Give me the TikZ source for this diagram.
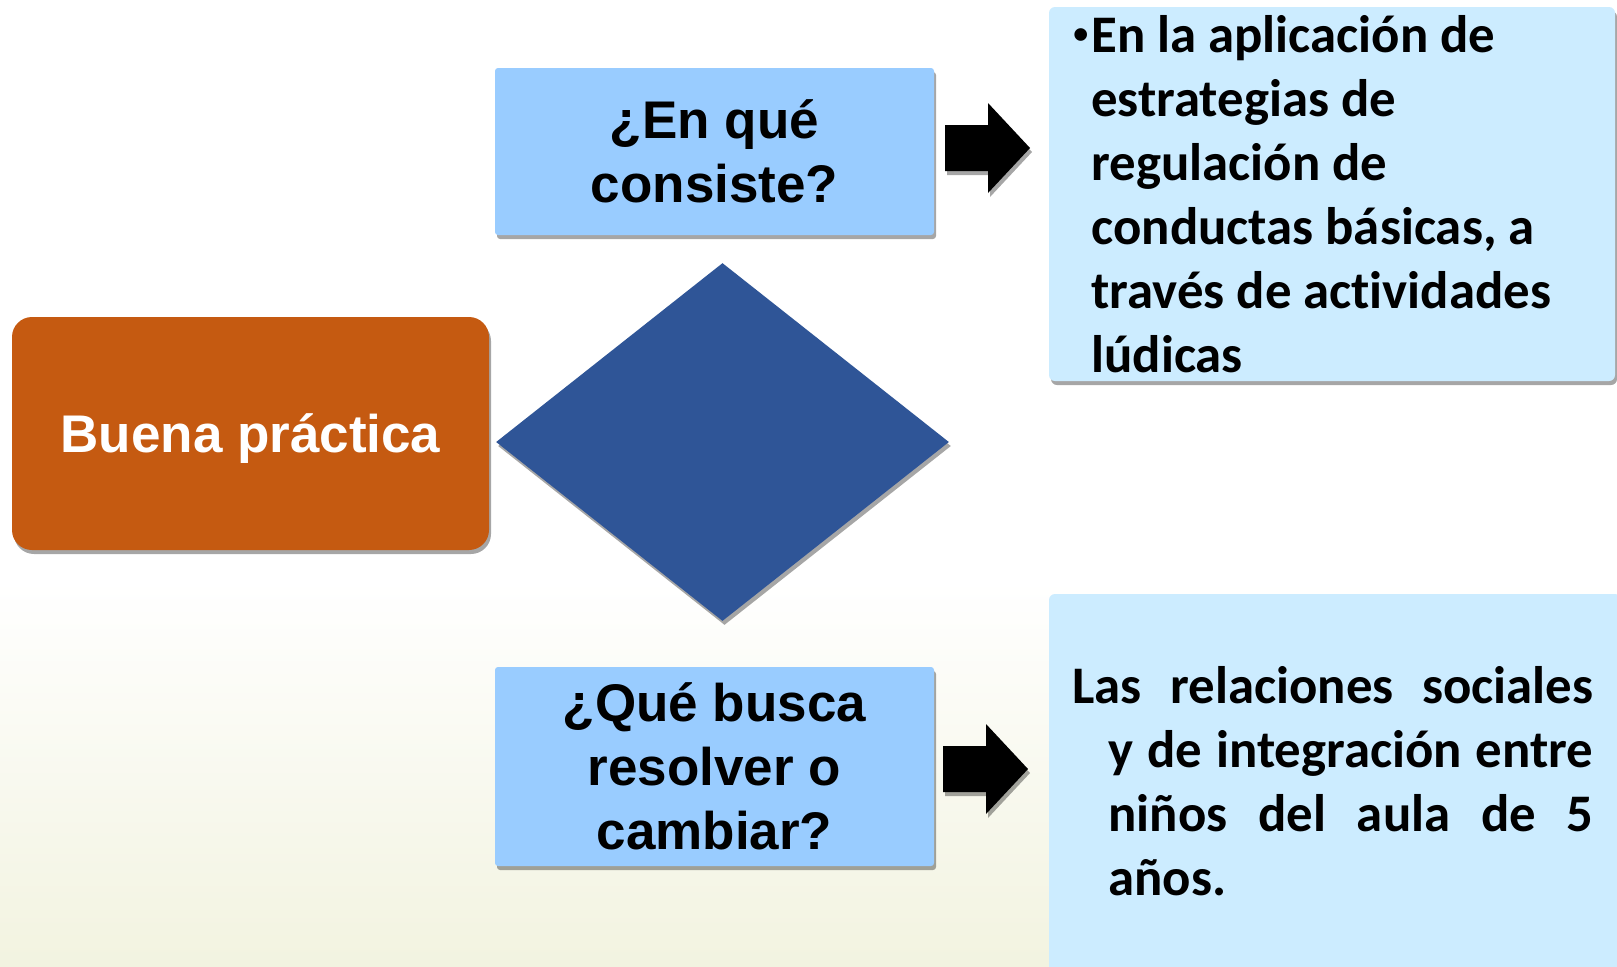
\documentclass[tikz,border=0pt]{standalone}
\usepackage{fontspec}
\setmainfont{Carlito}[Ligatures=NoCommon]
\newfontfamily\arialfont{Liberation Sans}
\usetikzlibrary{positioning,shapes.geometric,shadows}

\definecolor{naranja}{RGB}{197,90,17}
\definecolor{azulrombo}{RGB}{47,85,151}
\definecolor{celeste}{RGB}{153,204,255}
\definecolor{celesteclaro}{RGB}{204,236,255}
\definecolor{crema}{RGB}{242,243,224}

\tikzset{
  sombra/.style={drop shadow={shadow xshift=1pt,shadow yshift=-2pt,opacity=.35,fill=black}},
  titulo/.style={font=\arialfont\bfseries\fontsize{26.5}{32}\selectfont, align=center, inner sep=0pt},
  pregunta/.style={titulo, fill=celeste, rounded corners=1.5pt, minimum width=219.5pt, sombra},
  respuesta/.style={fill=celesteclaro, rounded corners=3pt, inner sep=0pt, sombra},
  texto/.style={font=\bfseries\fontsize{26.4}{32}\selectfont, anchor=base west, inner sep=0pt},
  flecha/.style={fill=black, sombra}
}

\begin{document}
\begin{tikzpicture}[x=0.5pt,y=-0.5pt]
	% fondo
	\useasboundingbox (0,0) rectangle (1617,966);
	\clip (0,0) rectangle (1617,966);
	\fill[white] (0,0) rectangle (1617,966);
	\shade[top color=white, bottom color=crema] (0,580) rectangle (1617,966);

	\node[titulo, fill=naranja, text=white, text depth=0pt, rounded corners=10pt, minimum width=238.5pt, minimum height=116.5pt, sombra] (buena) at (250.5,433.5) {Buena práctica};
	\node[diamond, fill=azulrombo, minimum width=226.5pt, minimum height=179pt, inner sep=0pt, sombra] (rombo) at (722.5,442) {};

	\node[pregunta, minimum height=83.5pt] (consiste) at (714.5,151.5) {¿En qué\\consiste?};
	\node[pregunta, minimum height=99.5pt] (busca) at (714.5,766.5) {¿Qué busca\\resolver o\\cambiar?};

	\node[respuesta, minimum width=283pt, minimum height=187pt] (resp1) at (1332,194) {};
	\node[respuesta, minimum width=286pt, minimum height=194pt] (resp2) at (1335,788) {};

	% flechas
	\foreach \x/\y in {945/148, 943/769}
		\fill[flecha] (\x,\y-23) -- ++(43,0) -- ++(0,-22) -- ++(42,45) -- ++(-42,45) -- ++(0,-22) -- ++(-43,0) -- cycle;

	% texto de las respuestas
	\node[texto, font=\arialfont\bfseries\fontsize{22}{22}\selectfont] (bala) at (1073,49) {•};
	\foreach \linea [count=\i] in {En la aplicación de, estrategias de, regulación de, {conductas básicas, a}, través de actividades, lúdicas}
		\node[texto] (lin\i) at (1091,52+64*\i-64) {\linea};

	\node[texto] (rel1) at (1072,703) {\makebox[260.5pt][s]{Las relaciones sociales}};
	\node[texto] (rel2) at (1108,767) {\makebox[242.5pt][s]{y de integración entre}};
	\node[texto] (rel3) at (1108,831) {\makebox[242.5pt][s]{niños del aula de 5}};
	\node[texto] (rel4) at (1108,895) {años.};
\end{tikzpicture}
\end{document}
